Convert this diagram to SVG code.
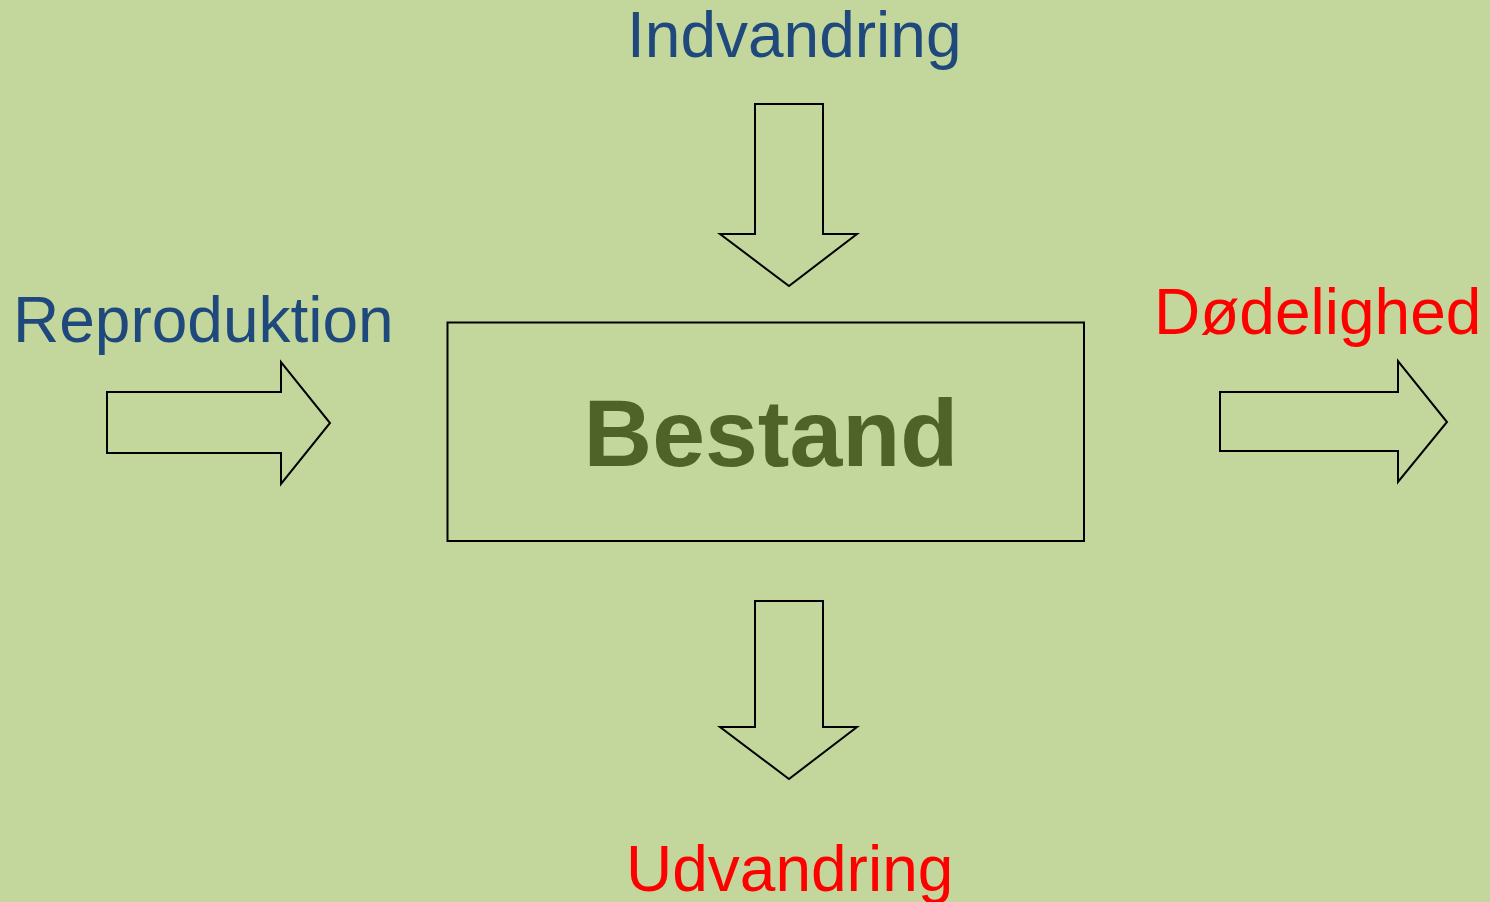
<svg xmlns="http://www.w3.org/2000/svg" width="1490" height="902" viewBox="0 0 1490 902">
<style>
.arrow{fill:none;stroke:#000;stroke-width:2;stroke-linejoin:miter}
.lbl{font-family:"Liberation Sans",Arial,sans-serif;font-size:64px}
.in{fill:#1F497D}
.out{fill:#FF0000}
.main{font-family:"Liberation Sans",Arial,sans-serif;font-size:95px;font-weight:bold;fill:#4F6228}
</style>
<rect width="1490" height="902" fill="#C3D69B"/>
<g id="bestand">
<rect x="447.5" y="322.5" width="636.5" height="218.5" fill="none" stroke="#000" stroke-width="2"/>
<text class="main" x="771" y="466" text-anchor="middle">Bestand</text>
</g>
<g id="connectors">
<polygon class="arrow" points="755,104 823,104 823,234 857,234 789,286 720,234 755,234"/>
<polygon class="arrow" points="755,601 823,601 823,727 857,727 789,779 720,727 755,727"/>
<polygon class="arrow" points="107,392 281,392 281,362 330,423 281,484 281,453 107,453"/>
<polygon class="arrow" points="1220,392 1398,392 1398,361 1447,422 1398,482 1398,451 1220,451"/>
</g>
<g id="indvandring"><text class="lbl in" x="627" y="57">Indvandring</text></g>
<g id="reproduktion"><text class="lbl in" x="13" y="342">Reproduktion</text></g>
<g id="dodelighed"><text class="lbl out" x="1154" y="334">Dødelighed</text></g>
<g id="udvandring"><text class="lbl out" x="626" y="891">Udvandring</text></g>
</svg>
